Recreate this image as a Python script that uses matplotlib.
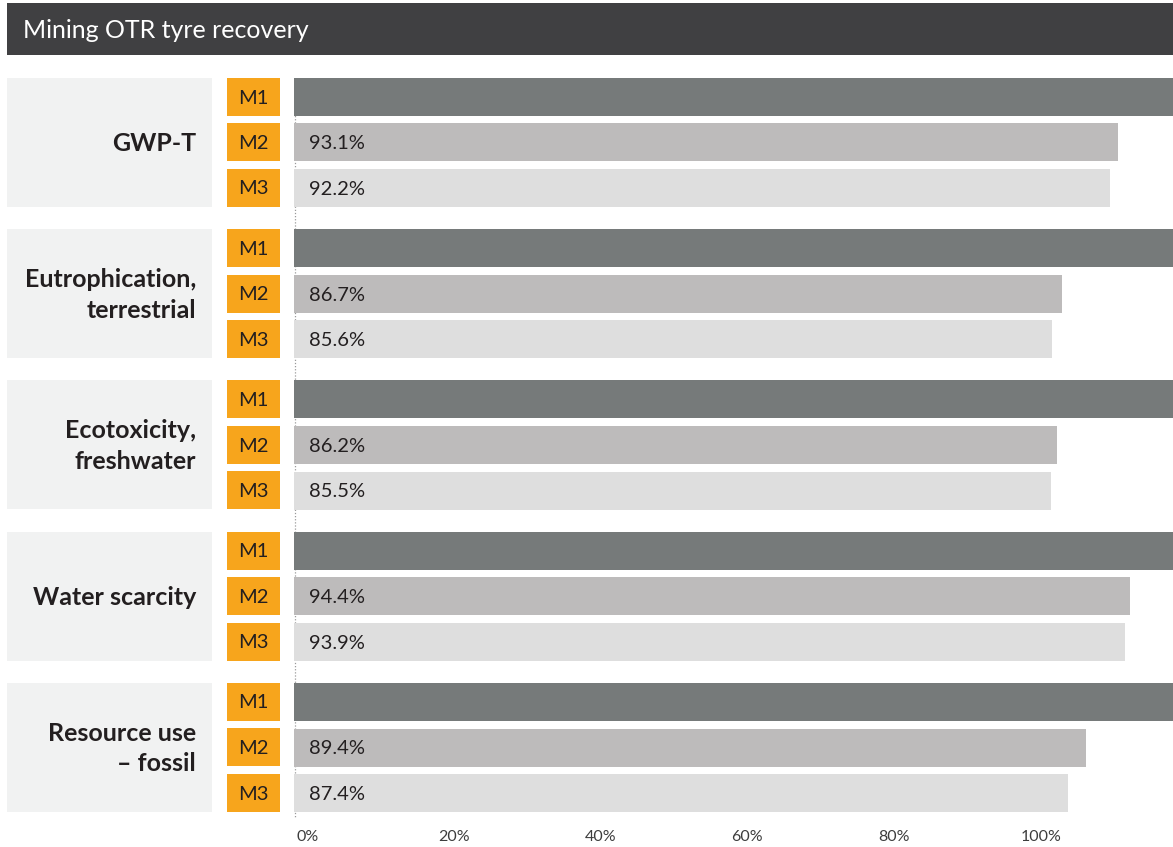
import matplotlib
matplotlib.use("Agg")
import matplotlib.pyplot as plt
from matplotlib.patches import Rectangle

plt.rcParams['font.family'] = ['Lato', 'DejaVu Sans']

# impact categories and relative results per method (M1 = 100 % reference)
categories = ["GWP-T", "Eutrophication,\nterrestrial", "Ecotoxicity,\nfreshwater",
              "Water scarcity", "Resource use\n– fossil"]
methods = ["M1", "M2", "M3"]
m1_values = [100, 100, 100, 100, 100]
m2_values = [93.1, 86.7, 86.2, 94.4, 89.4]
m3_values = [92.2, 85.6, 85.5, 93.9, 87.4]
tick_values = [0, 20, 40, 60, 80, 100]

W, H = 1173, 847
TITLE_BG = "#404042"
PANEL_BG = "#f1f2f2"
ORANGE = "#f7a51c"
TEXT = "#231f20"
bar_colors = ["#767a7a", "#bdbbbb", "#dedede"]

# layout in pixels
group_top0 = 78
group_step = 151.25
row_step = 45.5
bar_h = 38
bars_left = 294
bars_bottom = 822

fig = plt.figure(figsize=(W / 100, H / 100), dpi=100)

# background layer: title band, category panels, method tags
bg = fig.add_axes([0, 0, 1, 1])
bg.set_xlim(0, W)
bg.set_ylim(H, 0)
bg.axis("off")

bg.add_patch(Rectangle((7, 3), W - 7, 52, color=TITLE_BG, lw=0))
bg.text(23, 30, "Mining OTR tyre recovery", color="white", fontsize=18,
        va="center", ha="left")

series = [m1_values, m2_values, m3_values]

for g, cat in enumerate(categories):
    top = group_top0 + g * group_step
    panel_h = 2 * row_step + bar_h
    bg.add_patch(Rectangle((7, top), 205, panel_h, color=PANEL_BG, lw=0))
    bg.text(196, top + panel_h / 2 + 1, cat, ha="right", va="center",
            fontsize=18, fontweight="bold", color=TEXT, linespacing=1.4,
            multialignment="right")
    for r, m in enumerate(methods):
        y = top + r * row_step
        bg.add_patch(Rectangle((227, y), 53, bar_h, color=ORANGE, lw=0))
        bg.text(253.5, y + bar_h / 2 + 1, m, ha="center", va="center",
                fontsize=14.5, color=TEXT)

# bars, same vertical pixel units as the background layer
ax = fig.add_axes([bars_left / W, (H - bars_bottom) / H,
                   (W - bars_left) / W, bars_bottom / H])
ax.patch.set_alpha(0)
ax.set_ylim(bars_bottom, 0)
ax.set_xlim(0, (W - bars_left) / 8.855)
for s in ax.spines.values():
    s.set_visible(False)
ax.set_yticks([])
ax.set_xticks([])

ax.vlines(0.1, group_top0, 818, colors="#9a9a9a", linestyles=(0, (1, 1.5)),
          lw=0.9, zorder=0)

for r, vals in enumerate(series):
    ys = [group_top0 + g * group_step + r * row_step + bar_h / 2
          for g in range(len(categories))]
    bars = ax.barh(ys, vals, height=bar_h, color=bar_colors[r], lw=0, zorder=2)
    if r > 0:
        for b, v in zip(bars, vals):
            ax.annotate(f"{v:.1f}%", (0, b.get_y() + bar_h / 2),
                        xytext=(11, -1), textcoords="offset points",
                        ha="left", va="center", fontsize=14.5, color=TEXT,
                        zorder=3)

# percentage scale along the bottom
tx = ax.twiny()
tx.set_xlim((bars_left - 307.2) / 7.337, (W - 307.2) / 7.337)
tx.xaxis.set_ticks_position("bottom")
tx.set_xticks(tick_values)
tx.set_xticklabels([f"{v}%" for v in tick_values])
tx.tick_params(axis="x", length=0, pad=6, labelsize=11.5, labelcolor="#3d3d3d")
for s in tx.spines.values():
    s.set_visible(False)

fig.savefig("out.png", dpi=100)
